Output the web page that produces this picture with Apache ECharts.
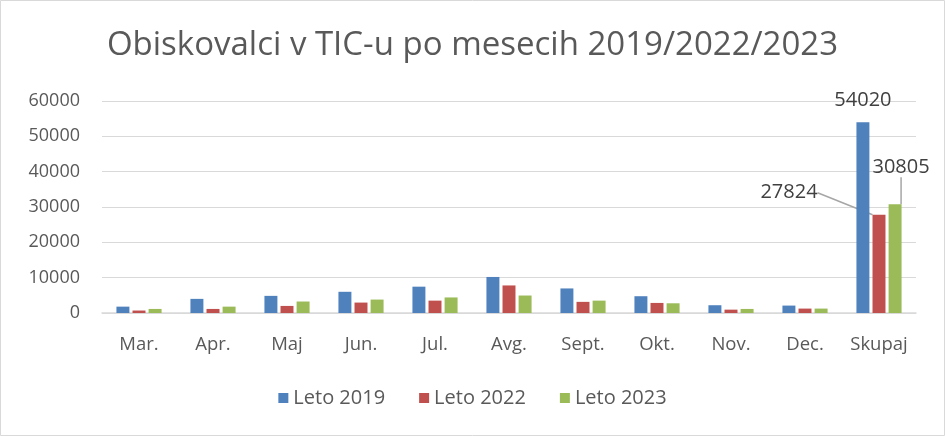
<!DOCTYPE html>
<html>
<head>
<meta charset="utf-8">
<script src="https://cdn.jsdelivr.net/npm/echarts@6/dist/echarts.min.js"></script>
<style>
  html, body { margin: 0; padding: 0; background: #fff; }
  #chart { width: 945px; height: 436px; }
</style>
</head>
<body>
<div id="chart"></div>
<script>
// Monthly visitor counts at the tourist information centre
const months = ['Mar.', 'Apr.', 'Maj', 'Jun.', 'Jul.', 'Avg.', 'Sept.', 'Okt.', 'Nov.', 'Dec.', 'Skupaj'];
const leto2019 = [1800, 4000, 4850, 6000, 7450, 10200, 6950, 4750, 2200, 2100, 54020];
const leto2022 = [700, 1150, 2000, 2950, 3500, 7800, 3150, 2850, 950, 1250, 27824];
const leto2023 = [1150, 1800, 3250, 3800, 4400, 4950, 3500, 2750, 1150, 1250, 30805];
const seriesNames = ['Leto 2019', 'Leto 2022', 'Leto 2023'];
const yTicks = [0, 10000, 20000, 30000, 40000, 50000, 60000];

const textColor = '#595959';
const font = 'Open Sans';
const totalIdx = months.length - 1;

// Only the "Skupaj" column carries a value label
function withTotalLabel(values, label) {
  return values.map((v, i) => i === totalIdx
    ? { value: v, label: Object.assign({ show: true }, label) }
    : v);
}

// Shift the total label of a series away from its bar
function shiftTotal(dx, dy) {
  return function (params) {
    return params.dataIndex === totalIdx ? { dx: dx, dy: dy } : {};
  };
}

const labelStyle = { fontSize: 20, color: '#404040', fontFamily: font, formatter: '{c}' };
const leader = { show: true, lineStyle: { color: '#A6A6A6', width: 1.5 } };

const chart = echarts.init(document.getElementById('chart'), null, { renderer: 'canvas' });
chart.setOption({
  animation: false,
  backgroundColor: '#fff',
  color: ['#4F81BD', '#C0504D', '#9BBB59'],
  title: {
    text: 'Obiskovalci v TIC-u po mesecih 2019/2022/2023',
    left: 'center',
    top: 24,
    textStyle: { fontSize: 33, fontWeight: 'normal', color: textColor, fontFamily: font }
  },
  graphic: [{
    type: 'rect',
    shape: { x: 0.5, y: 0.5, width: 944, height: 435 },
    style: { fill: 'none', stroke: '#D9D9D9', lineWidth: 1 },
    silent: true
  }],
  legend: {
    data: seriesNames,
    bottom: 23,
    left: 'center',
    itemWidth: 10,
    itemHeight: 10,
    itemGap: 34,
    icon: 'rect',
    textStyle: { fontSize: 20, color: textColor, fontFamily: font }
  },
  grid: { left: 102, right: 29, top: 101, bottom: 123, containLabel: false },
  xAxis: {
    type: 'category',
    data: months,
    axisTick: { show: false },
    axisLine: { lineStyle: { color: '#D9D9D9', width: 1.5 } },
    axisLabel: { interval: 0, fontSize: 18.5, color: textColor, fontFamily: font, margin: 22 }
  },
  yAxis: {
    type: 'value',
    min: yTicks[0],
    max: yTicks[yTicks.length - 1],
    interval: yTicks[1] - yTicks[0],
    axisLine: { show: false },
    axisTick: { show: false },
    splitLine: { lineStyle: { color: '#D9D9D9', width: 1.2 } },
    axisLabel: { fontSize: 18, color: textColor, fontFamily: font, margin: 22, formatter: (v) => String(v) }
  },
  series: [
    {
      name: seriesNames[0], type: 'bar', barGap: '24%', barCategoryGap: '39%',
      data: withTotalLabel(leto2019, Object.assign({ position: 'top', distance: 12 }, labelStyle))
    },
    {
      name: seriesNames[1], type: 'bar',
      labelLine: leader,
      labelLayout: shiftTotal(-90, -10),
      data: withTotalLabel(leto2022, Object.assign({ position: 'top', distance: 2 }, labelStyle))
    },
    {
      name: seriesNames[2], type: 'bar',
      labelLine: leader,
      labelLayout: shiftTotal(6, -25),
      data: withTotalLabel(leto2023, Object.assign({ position: 'top', distance: 2 }, labelStyle))
    }
  ]
});
</script>
</body>
</html>
